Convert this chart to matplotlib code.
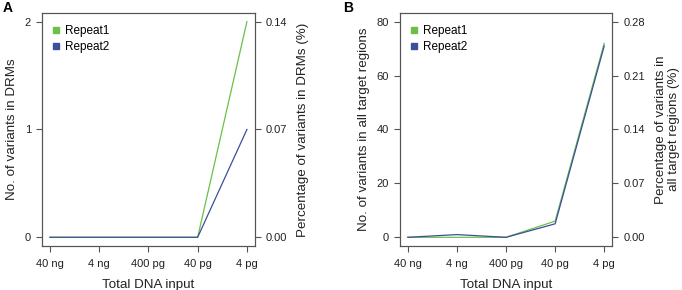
import matplotlib
matplotlib.use("Agg")
import matplotlib.pyplot as plt

categories = ["40 ng", "4 ng", "400 pg", "40 pg", "4 pg"]
a_repeat1 = [0, 0, 0, 0, 2]
a_repeat2 = [0, 0, 0, 0, 1]
a_left_ticks = [0, 1, 2]
a_right_ticks = ["0.00", "0.07", "0.14"]
b_repeat1 = [0, 0, 0, 6, 72]
b_repeat2 = [0, 1, 0, 5, 71]
b_left_ticks = [0, 20, 40, 60, 80]
b_right_ticks = ["0.00", "0.07", "0.14", "0.21", "0.28"]

GREEN = "#6cbf4a"
BLUE = "#3b4f9a"
FRAME = "#555555"

plt.rcParams['font.family'] = ['Liberation Sans', 'DejaVu Sans']

fig = plt.figure(figsize=(6.82, 2.90), dpi=100)

def panel(rect, r1, r2, lticks, rticks, ylabel, rlabel, letter, lx):
    ax = fig.add_axes(rect)
    x = list(range(1, len(categories) + 1))
    ax.plot(x, r1, color=GREEN, lw=0.9, label="Repeat1")
    ax.plot(x, r2, color=BLUE, lw=0.9, label="Repeat2")
    ymax = lticks[-1]
    pad = 0.04 * ymax
    ax.set_ylim(-pad, ymax + pad)
    ax.set_xlim(1 - 0.16, 5 + 0.16)
    ax.set_xticks(x)
    ax.set_xticklabels(categories)
    ax.set_yticks(lticks)
    for s in ax.spines.values():
        s.set_color(FRAME)
        s.set_linewidth(0.8)
    ax.tick_params(colors="#222222", labelsize=8, length=4.5, width=0.8, color=FRAME)
    ax.tick_params(axis='x', pad=5)
    ax.set_xlabel("Total DNA input", fontsize=9.6, color="#222222", labelpad=7)
    ax.set_ylabel(ylabel, fontsize=9.6, color="#222222", labelpad=5)
    ax2 = ax.twinx()
    ax2.set_ylim(ax.get_ylim())
    ax2.set_yticks(lticks)
    ax2.set_yticklabels(rticks)
    ax2.tick_params(colors="#222222", labelsize=8, length=4.5, width=0.8, color=FRAME)
    for s in ax2.spines.values():
        s.set_color(FRAME)
        s.set_linewidth(0.8)
    ax2.set_ylabel(rlabel, fontsize=9.6, color="#222222", labelpad=7)
    h = [plt.Line2D([], [], marker='s', ls='', color=GREEN, markersize=4),
         plt.Line2D([], [], marker='s', ls='', color=BLUE, markersize=4)]
    ax.legend(h, ["Repeat1", "Repeat2"], loc="upper left", frameon=False,
              fontsize=8.5, handletextpad=0.4, handlelength=0.8,
              borderaxespad=0.0, labelspacing=0.4,
              bbox_to_anchor=(0.02, 0.97))
    fig.text(lx, 0.995, letter, fontsize=10, fontweight='bold', va='top', ha='left')
    return ax

panel([0.0616, 0.152, 0.312, 0.803], a_repeat1, a_repeat2, a_left_ticks, a_right_ticks,
      "No. of variants in DRMs", "Percentage of variants in DRMs (%)", "A", 0.004)
panel([0.5865, 0.152, 0.311, 0.803], b_repeat1, b_repeat2, b_left_ticks, b_right_ticks,
      "No. of variants in all target regions",
      "Percentage of variants in\nall target regions (%)", "B", 0.503)

fig.savefig("out.png", dpi=100)
